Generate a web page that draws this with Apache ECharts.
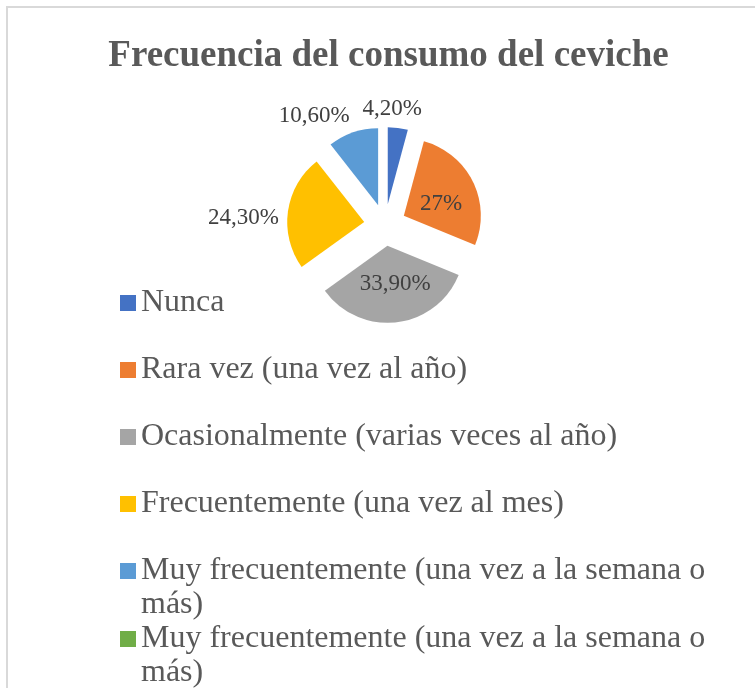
<!DOCTYPE html>
<html>
<head>
<meta charset="utf-8">
<title>Frecuencia del consumo del ceviche</title>
<script src="https://cdn.jsdelivr.net/npm/echarts@6/dist/echarts.min.js"></script>
<style>
  html, body { margin: 0; padding: 0; background: #fff; }
  #chart { width: 755px; height: 688px; }
</style>
</head>
<body>
<div id="chart"></div>
<script>
// Chart data
const chartTitle = 'Frecuencia del consumo del ceviche';
const categories = [
  'Nunca',
  'Rara vez (una vez al año)',
  'Ocasionalmente (varias veces al año)',
  'Frecuentemente (una vez al mes)',
  'Muy frecuentemente (una vez a la semana o más)',
  // second entry with the same text (trailing space keeps the name unique)
  'Muy frecuentemente (una vez a la semana o más) '
];
const values = [4.2, 27, 33.9, 24.3, 10.6, 0];
const pctLabels = ['4,20%', '27%', '33,90%', '24,30%', '10,60%', ''];

// Office palette
const COLORS = ['#4472C4', '#ED7D31', '#A5A5A5', '#FFC000', '#5B9BD5', '#70AD47'];
const SERIF = "'Liberation Serif', 'Times New Roman', serif";
const TEXT_GREY = '#595959';

// small nudges so the labels land where Excel's "best fit" put them
const LABEL_NUDGE = [[-41, -15], [0, 7], [3, -3], [0, 7], [3, -13], [0, 0]];

const chart = echarts.init(document.getElementById('chart'), null, { renderer: 'canvas' });

const pieData = categories.map((name, i) => ({
  name,
  value: values[i],
  selected: values[i] > 0,
  itemStyle: { color: COLORS[i] },
  label: {
    show: values[i] > 0,
    // big slices carry their label inside, the small ones outside
    position: (i === 1 || i === 2) ? 'inside' : 'outside'
  }
}));

const legendText = {
  fontFamily: SERIF,
  fontSize: 32,
  color: TEXT_GREY,
  lineHeight: 34,
  height: 34,          // box = first line only, so the icon sits on line one
  width: 600,
  overflow: 'break',
  rich: { x: {} }
};

chart.setOption({
  animation: false,
  backgroundColor: '#FFFFFF',
  color: COLORS,
  title: {
    text: chartTitle,
    left: 383.5,
    top: 33,
    textAlign: 'center',
    textStyle: { fontFamily: SERIF, fontWeight: 'bold', fontSize: 37, color: TEXT_GREY }
  },
  legend: [
    {
      orient: 'vertical',
      left: 120,
      top: 303 - 17,
      padding: 0,
      itemWidth: 16,
      itemHeight: 16,
      itemGap: 67 - 34,
      icon: 'rect',
      selectedMode: false,
      data: categories.slice(0, 5),
      textStyle: legendText
    },
    {
      orient: 'vertical',
      left: 120,
      top: 639 - 17,
      padding: 0,
      itemWidth: 16,
      itemHeight: 16,
      icon: 'rect',
      selectedMode: false,
      data: categories.slice(5),
      textStyle: legendText
    }
  ],
  graphic: [{
    type: 'rect',
    silent: true,
    shape: { x: 7, y: 7, width: 800, height: 800 },
    style: { fill: 'none', stroke: '#D9D9D9', lineWidth: 2 }
  }],
  series: [{
    type: 'pie',
    center: [385, 225],
    radius: 77,
    startAngle: 90,
    clockwise: true,
    selectedMode: 'multiple',
    selectedOffset: 21,
    avoidLabelOverlap: false,
    emphasis: { disabled: true },
    label: {
      fontFamily: SERIF,
      fontSize: 23,
      color: '#404040',
      formatter: (p) => pctLabels[p.dataIndex]
    },
    labelLine: { show: false, length: 4, length2: 0 },
    labelLayout: (p) => ({ dx: LABEL_NUDGE[p.dataIndex][0], dy: LABEL_NUDGE[p.dataIndex][1] }),
    data: pieData
  }]
});

window.addEventListener('resize', () => chart.resize());
</script>
</body>
</html>
